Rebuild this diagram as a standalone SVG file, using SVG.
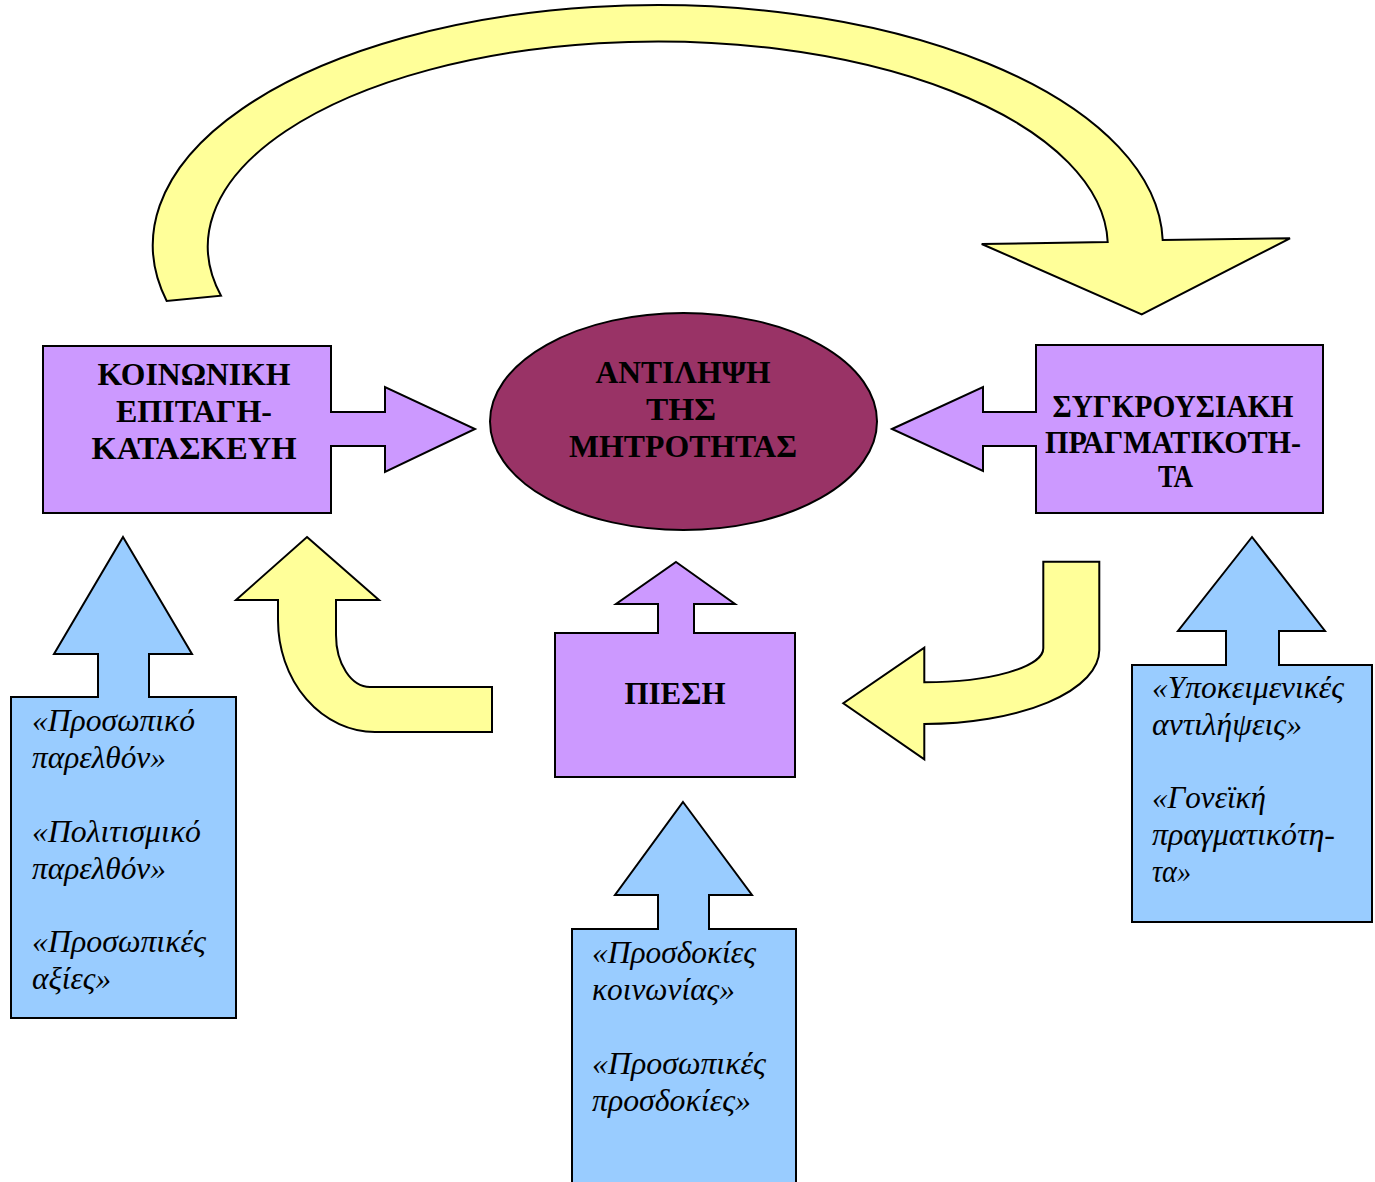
<svg xmlns="http://www.w3.org/2000/svg" width="1375" height="1182" viewBox="0 0 1375 1182">
<style>
.sh{stroke:#000;stroke-width:2;stroke-linejoin:miter}
.vio{fill:#CC99FF}
.mar{fill:#993366}
.yel{fill:#FFFF99}
.blu{fill:#99CCFF}
.tb{font-family:"Liberation Serif","Times New Roman",serif;font-weight:bold;font-size:31px;fill:#000;text-anchor:middle}
.ti{font-family:"Liberation Serif","Times New Roman",serif;font-style:italic;font-size:31.5px;fill:#000}
</style>
<rect width="1375" height="1182" fill="#fff"/>
<g id="connectors">
<path class="sh yel" d="M166.7,301 A505,240 0 1,1 1162.7,240 L1290,238.3 L1141.7,314.3 L981.7,244 L1107.7,242 A450,205 0 1,0 221,295.7 Z"/>
<path class="sh yel" d="M307,537 L379,600 H336 V635 A34,52 0 0,0 370,687 H492 V732 H375 A97,112 0 0,1 278,620 V600 H236 Z"/>
<path class="sh yel" d="M1043.3,561.7 H1099.3 V650 A175,74 0 0,1 924.3,724 V759.3 L843.3,703.3 L924.3,647.7 V682.3 A119,34 0 0,0 1043.3,648.3 Z"/>
</g>
<g id="center">
<ellipse class="sh mar" cx="683.5" cy="421.5" rx="193.5" ry="108.5"/>
<text class="tb" x="683" y="383" textLength="175" lengthAdjust="spacingAndGlyphs">ΑΝΤΙΛΗΨΗ</text>
<text class="tb" x="681" y="420" textLength="70" lengthAdjust="spacingAndGlyphs">ΤΗΣ</text>
<text class="tb" x="683" y="457" textLength="228" lengthAdjust="spacingAndGlyphs">ΜΗΤΡΟΤΗΤΑΣ</text>
</g>
<g id="social">
<path class="sh vio" d="M43,346 H331 V412 H385 V387 L475,429 L385,472 V446 H331 V513 H43 Z"/>
<text class="tb" x="194" y="385" textLength="193" lengthAdjust="spacingAndGlyphs">ΚΟΙΝΩΝΙΚΗ</text>
<text class="tb" x="194" y="422" textLength="156" lengthAdjust="spacingAndGlyphs">ΕΠΙΤΑΓΗ-</text>
<text class="tb" x="194" y="459" textLength="205" lengthAdjust="spacingAndGlyphs">ΚΑΤΑΣΚΕΥΗ</text>
</g>
<g id="conflict">
<path class="sh vio" d="M892,429 L983,387 V412 H1036 V345 H1323 V513 H1036 V446 H983 V471 Z"/>
<text class="tb" x="1173" y="417" textLength="241" lengthAdjust="spacingAndGlyphs">ΣΥΓΚΡΟΥΣΙΑΚΗ</text>
<text class="tb" x="1173" y="453" textLength="256" lengthAdjust="spacingAndGlyphs">ΠΡΑΓΜΑΤΙΚΟΤΗ-</text>
<text class="tb" x="1175.5" y="487" textLength="35" lengthAdjust="spacingAndGlyphs">ΤΑ</text>
</g>
<g id="pressure">
<path class="sh vio" d="M676,562 L735,604 H694 V633 H795 V777 H555 V633 H658 V604 H616 Z"/>
<text class="tb" x="675" y="704" textLength="101" lengthAdjust="spacingAndGlyphs">ΠΙΕΣΗ</text>
</g>
<g id="past">
<path class="sh blu" d="M123,537 L192,654 H149 V697 H236 V1018 H11 V697 H98 V654 H54 Z"/>
<text class="ti" x="32" y="731" textLength="163" lengthAdjust="spacingAndGlyphs">«Προσωπικό</text>
<text class="ti" x="32" y="768" textLength="134" lengthAdjust="spacingAndGlyphs">παρελθόν»</text>
<text class="ti" x="32" y="842" textLength="169" lengthAdjust="spacingAndGlyphs">«Πολιτισμικό</text>
<text class="ti" x="32" y="879" textLength="134" lengthAdjust="spacingAndGlyphs">παρελθόν»</text>
<text class="ti" x="32" y="952" textLength="174" lengthAdjust="spacingAndGlyphs">«Προσωπικές</text>
<text class="ti" x="32" y="989" textLength="79" lengthAdjust="spacingAndGlyphs">αξίες»</text>
</g>
<g id="subjective">
<path class="sh blu" d="M1252,537 L1325,631 H1279 V665 H1372 V922 H1132 V665 H1226 V631 H1178 Z"/>
<text class="ti" x="1152" y="698" textLength="192" lengthAdjust="spacingAndGlyphs">«Υποκειμενικές</text>
<text class="ti" x="1152" y="735" textLength="150" lengthAdjust="spacingAndGlyphs">αντιλήψεις»</text>
<text class="ti" x="1152" y="808" textLength="114" lengthAdjust="spacingAndGlyphs">«Γονεϊκή</text>
<text class="ti" x="1152" y="845" textLength="183" lengthAdjust="spacingAndGlyphs">πραγματικότη-</text>
<text class="ti" x="1152" y="882" textLength="39" lengthAdjust="spacingAndGlyphs">τα»</text>
</g>
<g id="expectations">
<path class="sh blu" d="M683,802 L752,895 H709 V929 H796 V1200 H572 V929 H658 V895 H615 Z"/>
<text class="ti" x="592" y="963" textLength="164" lengthAdjust="spacingAndGlyphs">«Προσδοκίες</text>
<text class="ti" x="592" y="1000" textLength="143" lengthAdjust="spacingAndGlyphs">κοινωνίας»</text>
<text class="ti" x="592" y="1074" textLength="174" lengthAdjust="spacingAndGlyphs">«Προσωπικές</text>
<text class="ti" x="592" y="1111" textLength="159" lengthAdjust="spacingAndGlyphs">προσδοκίες»</text>
</g>
</svg>
